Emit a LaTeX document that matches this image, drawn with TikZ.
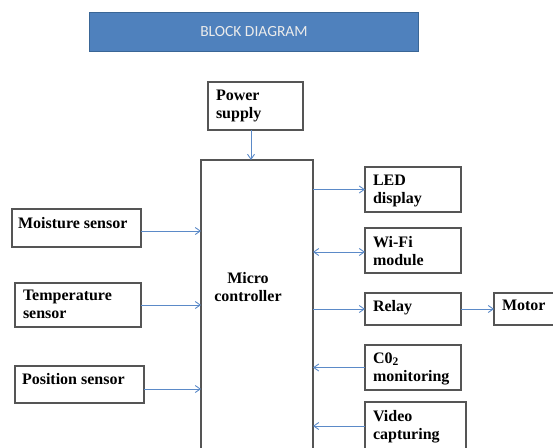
\documentclass[tikz,border=0pt]{standalone}
\usepackage{fontspec}
\setmainfont{Liberation Serif}
\newfontfamily\titlefont{Carlito}
\usetikzlibrary{calc,arrows.meta}
\definecolor{boxgray}{HTML}{555555}
\definecolor{arrblue}{HTML}{5B8AC8}
\definecolor{titlefill}{HTML}{4F81BD}
\definecolor{titledraw}{HTML}{3A6696}
\begin{document}
\begin{tikzpicture}[x=1pt,y=-1pt,
  blk/.style={draw=boxgray,line width=1.6pt,rectangle,inner sep=0pt,outer sep=0pt,anchor=north west},
  txt/.style={inner sep=0pt,outer sep=0pt,anchor=north west,align=left,font=\bfseries\fontsize{16}{18}\selectfont},
  conn/.style={draw=arrblue,line width=0.9pt},
  tip/.style={-{Straight Barb[length=5pt,width=7pt,line width=0.9pt]}},
  bitip/.style={{Straight Barb[length=5pt,width=7pt,line width=0.9pt]}-{Straight Barb[length=5pt,width=7pt,line width=0.9pt]}}
]
\useasboundingbox (0,0) rectangle (553,447);
\clip (0,0) rectangle (553,447);
% title
\node[draw=titledraw,fill=titlefill,line width=1pt,anchor=north west,minimum width=329pt,minimum height=39pt,inner sep=0pt,
  text=white!92!black,font=\titlefont\fontsize{15.5}{17}\selectfont] (title) at (89,12) {BLOCK DIAGRAM};
% boxes
\node[blk,minimum width=95pt,minimum height=48pt] (power) at (208,82) {};
\node[blk,minimum width=112pt,minimum height=320pt] (micro) at (201,160) {};
\node[blk,minimum width=129pt,minimum height=38pt] (moist) at (12,209) {};
\node[blk,minimum width=126pt,minimum height=44pt] (temp) at (15,283) {};
\node[blk,minimum width=129pt,minimum height=37pt] (pos) at (15,366) {};
\node[blk,minimum width=96pt,minimum height=45pt] (led) at (365,167) {};
\node[blk,minimum width=96pt,minimum height=45pt] (wifi) at (365,228) {};
\node[blk,minimum width=96pt,minimum height=32pt] (relay) at (365,293) {};
\node[blk,minimum width=80pt,minimum height=32pt] (motor) at (494,293) {};
\node[blk,minimum width=96pt,minimum height=45pt] (co2) at (365,345) {};
\node[blk,minimum width=101pt,minimum height=48pt] (video) at (365,402) {};
% texts
\node[txt] (power-t) at ($(power.north west)+(8,8)$) {Power\\supply};
\node[txt,align=center,anchor=center] (micro-t) at (248,287) {Micro\\controller};
\node[txt] (moist-t) at ($(moist.north west)+(6,8)$) {Moisture sensor};
\node[txt] (temp-t) at ($(temp.north west)+(8,7)$) {Temperature\\sensor};
\node[txt] (pos-t) at ($(pos.north west)+(7,7)$) {Position sensor};
\node[txt] (led-t) at ($(led.north west)+(8,8)$) {LED\\display};
\node[txt] (wifi-t) at ($(wifi.north west)+(8,8)$) {Wi-Fi\\module};
\node[txt] (relay-t) at ($(relay.north west)+(8,7)$) {Relay};
\node[txt] (motor-t) at ($(motor.north west)+(8,7)$) {Motor};
\node[txt] (co2-t) at ($(co2.north west)+(8,8)$) {C0\raisebox{-0.3ex}{\fontsize{11.5}{11.5}\selectfont 2}\\monitoring};
\node[txt] (video-t) at ($(video.north west)+(8,8)$) {Video\\capturing};
% connectors
\draw[conn,tip] (power.south -| 251,0) -- (micro.north -| 251,0);
\draw[conn,tip] ([yshift=-3pt]moist.east) -- ([yshift=-3pt]moist.east -| micro.west);
\draw[conn,tip] (temp.east) -- (temp.east -| micro.west);
\draw[conn,tip] ([yshift=-4.5pt]pos.east) -- ([yshift=-4.5pt]pos.east -| micro.west);
\draw[conn,tip] (led.west -| micro.east) -- (led.west);
\draw[conn,bitip] ([yshift=-1.5pt]wifi.west -| micro.east) -- ([yshift=-1.5pt]wifi.west);
\draw[conn,tip] (relay.west -| micro.east) -- (relay.west);
\draw[conn,tip] (relay.east) -- (motor.west);
\draw[conn,tip] (co2.west) -- (co2.west -| micro.east);
\draw[conn,tip] (video.west) -- (video.west -| micro.east);
\end{tikzpicture}
\end{document}
